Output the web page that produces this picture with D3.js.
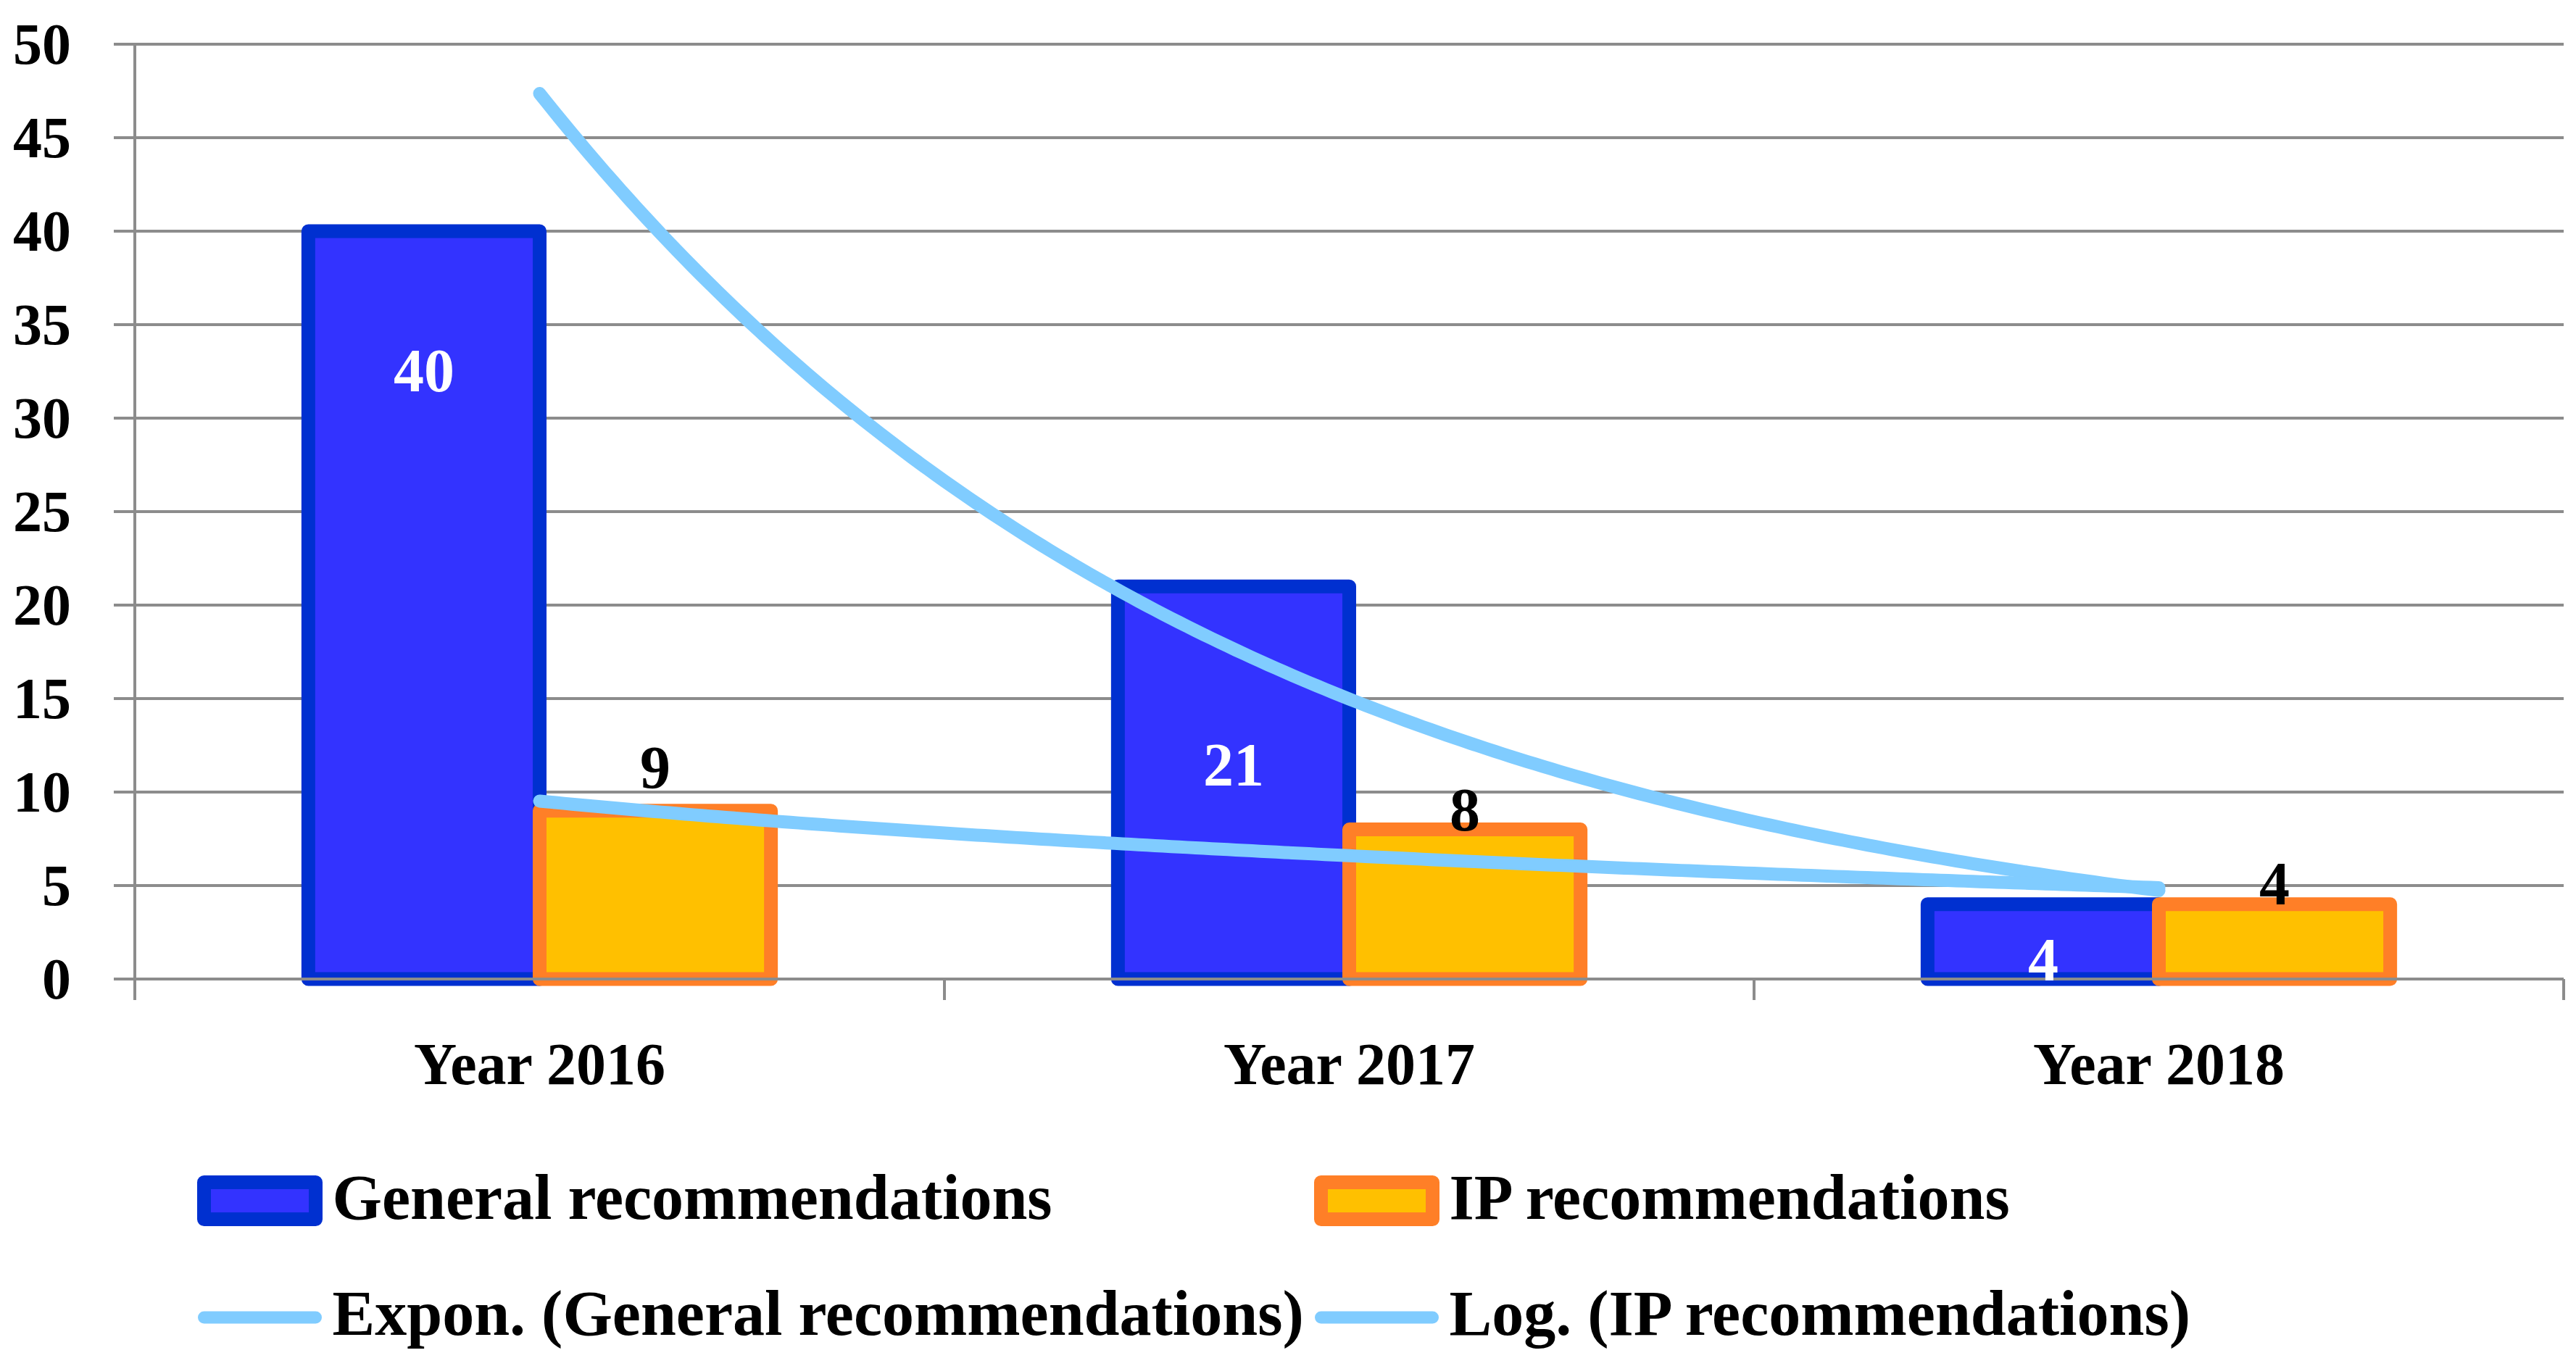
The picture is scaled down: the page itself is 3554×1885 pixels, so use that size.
<!DOCTYPE html>
<html>
<head>
<meta charset="utf-8">
<script src="https://cdn.jsdelivr.net/npm/d3@7"></script>
<style>
  html, body { margin: 0; padding: 0; background: #ffffff; }
  svg { display: block; }
  text { font-family: "Liberation Serif", "Times New Roman", serif; font-weight: bold; }
</style>
</head>
<body>
<svg id="chart" width="3554" height="1885"></svg>
<script>
// ---- data ----
const categories = ["Year 2016", "Year 2017", "Year 2018"];
const seriesNames = ["General recommendations", "IP recommendations"];
const generalValues = [40, 21, 4];
const ipValues = [9, 8, 4];
const yTickValues = [0, 5, 10, 15, 20, 25, 30, 35, 40, 45, 50];
const trendNames = ["Expon. (General recommendations)", "Log. (IP recommendations)"];

// ---- label placement (styling, px) ----
const generalLabelDrop = [221, 275, 105];   // baseline below bar top
const ipLabelLift = [31, -1, 0];             // baseline above bar top

// ---- styles ----
const blueStroke = "#0030d0", blueFill = "#3333ff";
const orangeStroke = "#ff7f27", orangeFill = "#ffc000";
const trendColor = "#80ccff";
const gridColor = "#8c8c8c";

const svg = d3.select("#chart");
const x0 = 186, x1 = 3537, yZero = 1351, yMaxPx = 61;

const xCat = d3.scaleBand().domain(categories).range([x0, x1]).paddingInner(0).paddingOuter(0);
const xSub = d3.scaleBand().domain(seriesNames).range([0, xCat.bandwidth()]).paddingInner(0).paddingOuter(0.75);
const y = d3.scaleLinear().domain([0, 50]).range([yZero, yMaxPx]);

// gridlines (except zero, drawn later on top)
svg.append("g").selectAll("line").data(yTickValues.filter(v => v !== 0)).join("line")
  .attr("x1", x0 - 29).attr("x2", x1)
  .attr("y1", d => y(d)).attr("y2", d => y(d))
  .attr("stroke", gridColor).attr("stroke-width", 4);

// bars
const table = categories.map((c, i) => ({ cat: c, vals: [generalValues[i], ipValues[i]] }));
const strokes = [blueStroke, orangeStroke], fills = [blueFill, orangeFill];
seriesNames.forEach((s, si) => {
  svg.append("g").selectAll("rect").data(table).join("rect")
    .attr("x", d => xCat(d.cat) + xSub(s))
    .attr("width", xSub.bandwidth())
    .attr("y", d => y(d.vals[si]))
    .attr("height", d => y(0) - y(d.vals[si]))
    .attr("fill", fills[si])
    .attr("stroke", strokes[si])
    .attr("stroke-width", 19)
    .attr("stroke-linejoin", "round");
});

// trend lines (least-squares fits of the series, as the spreadsheet computes them)
const xs = categories.map((c, i) => i + 1);
function linFit(X, Y) {
  const n = X.length, mx = d3.mean(X), my = d3.mean(Y);
  let sxy = 0, sxx = 0;
  for (let i = 0; i < n; i++) { sxy += (X[i] - mx) * (Y[i] - my); sxx += (X[i] - mx) ** 2; }
  const b = sxy / sxx; return { a: my - b * mx, b };
}
const expFit = linFit(xs, generalValues.map(Math.log));
const logFit = linFit(xs.map(Math.log), ipValues);
const expF = t => Math.exp(expFit.a + expFit.b * t);
const logF = t => logFit.a + logFit.b * Math.log(t);
const barCenter = (i, si) => xCat(categories[i]) + xSub(seriesNames[si]) + xSub.bandwidth() / 2;
const catCenter = i => xCat(categories[i]) + xCat.bandwidth() / 2;
const xT = d3.scaleLinear().domain([1, 3]).range([catCenter(0), catCenter(2)]);
const samples = d3.range(0, 201).map(k => 1 + k / 100);
const lineGen = f => d3.line().x(t => xT(t)).y(t => y(f(t)))(samples);
[expF, logF].forEach(f => {
  svg.append("path").attr("d", lineGen(f))
    .attr("fill", "none").attr("stroke", trendColor).attr("stroke-width", 18)
    .attr("stroke-linecap", "round").attr("stroke-linejoin", "round");
});

// axes
svg.append("line").attr("x1", x0 - 29).attr("x2", x1).attr("y1", y(0)).attr("y2", y(0))
  .attr("stroke", gridColor).attr("stroke-width", 4);
svg.append("line").attr("x1", x0).attr("x2", x0).attr("y1", y(50) - 2).attr("y2", y(0) + 29)
  .attr("stroke", gridColor).attr("stroke-width", 4);
const boundaries = categories.map(c => xCat(c)).concat([x1]);
svg.append("g").selectAll("line").data(boundaries.slice(1)).join("line")
  .attr("x1", d => d).attr("x2", d => d).attr("y1", y(0)).attr("y2", y(0) + 29)
  .attr("stroke", gridColor).attr("stroke-width", 4);

// y tick labels
svg.append("g").selectAll("text").data(yTickValues).join("text")
  .attr("x", 98).attr("y", d => y(d) + 27)
  .attr("text-anchor", "end").attr("font-size", 80).attr("fill", "#000")
  .text(d => d);

// category labels
svg.append("g").selectAll("text").data(categories).join("text")
  .attr("x", (d, i) => catCenter(i)).attr("y", 1496)
  .attr("text-anchor", "middle").attr("font-size", 82).attr("fill", "#000")
  .text(d => d);

// data labels
svg.append("g").selectAll("text").data(generalValues).join("text")
  .attr("x", (d, i) => barCenter(i, 0)).attr("y", (d, i) => y(d) + generalLabelDrop[i])
  .attr("text-anchor", "middle").attr("font-size", 84).attr("fill", "#ffffff")
  .text(d => d);
svg.append("g").selectAll("text").data(ipValues).join("text")
  .attr("x", (d, i) => barCenter(i, 1)).attr("y", (d, i) => y(d) - ipLabelLift[i])
  .attr("text-anchor", "middle").attr("font-size", 84).attr("fill", "#000")
  .text(d => d);

// legend
const legendCols = [281.5, 1822.5];
const legend = svg.append("g");
seriesNames.forEach((s, si) => {
  legend.append("rect").attr("x", legendCols[si]).attr("y", 1631.5).attr("width", 154).attr("height", 51)
    .attr("fill", fills[si]).attr("stroke", strokes[si]).attr("stroke-width", 19).attr("stroke-linejoin", "round");
  legend.append("text").attr("x", legendCols[si] + 177).attr("y", 1682).attr("font-size", 88).attr("fill", "#000").text(s);
});
trendNames.forEach((s, si) => {
  legend.append("line").attr("x1", legendCols[si]).attr("x2", legendCols[si] + 154)
    .attr("y1", 1818).attr("y2", 1818).attr("stroke", trendColor).attr("stroke-width", 17).attr("stroke-linecap", "round");
  legend.append("text").attr("x", legendCols[si] + 177).attr("y", 1842).attr("font-size", 88).attr("fill", "#000").text(s);
});
</script>
</body>
</html>
